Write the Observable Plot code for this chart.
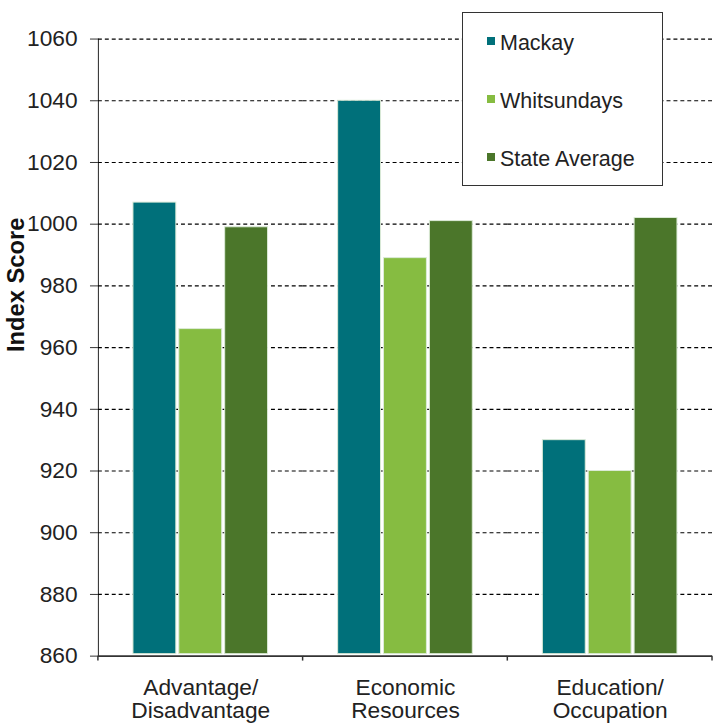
<!DOCTYPE html>
<html>
<head>
<meta charset="utf-8">
<script src="https://cdn.jsdelivr.net/npm/d3@7"></script>
<script src="https://cdn.jsdelivr.net/npm/@observablehq/plot@0.6"></script>
<style>
  html, body { margin: 0; padding: 0; background: #fff; overflow: hidden; }
  #wrap { position: relative; width: 714px; height: 725px; overflow: hidden; font-family: "Liberation Sans", Arial, sans-serif; }
  #legend { position: absolute; left: 462px; top: 12px; width: 199px; height: 172px; border: 1.5px solid #333; background: #fff; }
  .item { position: absolute; left: 24px; display: flex; align-items: center; font-size: 21.5px; color: #222; }
  .sw { width: 8px; height: 8px; margin-right: 5px; margin-top: -6px; }
</style>
</head>
<body>
<div id="wrap"></div>
<script>
const categories = ["Advantage/Disadvantage", "Economic Resources", "Education/Occupation"];
const categoryLabels = ["Advantage/\nDisadvantage", "Economic\nResources", "Education/\nOccupation"];
const seriesNames = ["Mackay", "Whitsundays", "State Average"];
const mackay = [1007, 1040, 930];
const whitsundays = [966, 989, 920];
const stateAverage = [999, 1001, 1002];
const colors = ["#00707a", "#86bc41", "#4b762a"];
const yTicks = [860, 880, 900, 920, 940, 960, 980, 1000, 1020, 1040, 1060];
const gridTicks = [880, 900, 920, 940, 960, 980, 1000, 1020, 1040, 1060];

const seriesValues = [mackay, whitsundays, stateAverage];
const data = [];
categories.forEach((c, i) => {
  seriesNames.forEach((s, j) => data.push({category: c, series: s, value: seriesValues[j][i]}));
});

const chart = Plot.plot({
  width: 722,
  height: 732,
  marginLeft: 98,
  marginRight: 2,
  marginTop: 39,
  marginBottom: 69,
  style: {fontFamily: "Liberation Sans, Arial, sans-serif", fontSize: "23px", color: "#222", background: "white", overflow: "visible"},
  facet: {data, x: "category"},
  fx: {domain: categories, padding: 0, axis: "bottom", label: null, tickSize: 0, tickPadding: 23,
       tickFormat: d => categoryLabels[categories.indexOf(d)]},
  x: {domain: seriesNames, axis: null, paddingInner: 0.065, paddingOuter: 0.764, round: false},
  y: {domain: [860, 1060], ticks: yTicks, tickFormat: d => String(d), tickSize: 8, tickPadding: 13, line: true, label: null},
  color: {domain: seriesNames, range: colors},
  marks: [
    Plot.ruleY(gridTicks, {stroke: "#000", strokeWidth: 1.2, strokeDasharray: "4,3"}),
    Plot.barY(data, {x: "series", y1: 860, y2: "value", fill: "series", stroke: "#dcebd8", strokeWidth: 1, insetBottom: 2}),
    Plot.ruleY([860], {stroke: "#333", strokeWidth: 2})
  ]
});

document.getElementById("wrap").appendChild(chart);

// category boundary ticks and y label, placed using the chart's own scales
const svg = d3.select(chart);
const fx = chart.scale("fx");
const y = chart.scale("y");
const bounds = categories.map(c => fx.apply(c)).concat([fx.apply(categories[categories.length - 1]) + fx.bandwidth]);
const y0 = y.apply(860);
svg.append("g").selectAll("line").data(bounds).join("line")
  .attr("x1", d => d).attr("x2", d => d)
  .attr("y1", y0).attr("y2", y0 + 5)
  .attr("stroke", "#333").attr("stroke-width", 1.5);
svg.selectAll("[aria-label='y-axis'] path, [aria-label='y-axis tick'] path").attr("stroke", "#333");
svg.append("text")
  .attr("transform", "translate(24,288) rotate(-90)")
  .attr("text-anchor", "middle")
  .attr("font-weight", "bold")
  .attr("font-size", 24)
  .attr("fill", "#111")
  .text("Index Score");

// legend
const legend = document.createElement("div");
legend.id = "legend";
const rowTops = [18, 76, 134];
seriesNames.forEach((s, i) => {
  const item = document.createElement("div");
  item.className = "item";
  item.style.top = rowTops[i] + "px";
  const sw = document.createElement("span");
  sw.className = "sw";
  sw.style.background = colors[i];
  const t = document.createElement("span");
  t.textContent = s;
  item.appendChild(sw);
  item.appendChild(t);
  legend.appendChild(item);
});
document.getElementById("wrap").appendChild(legend);
</script>
</body>
</html>
